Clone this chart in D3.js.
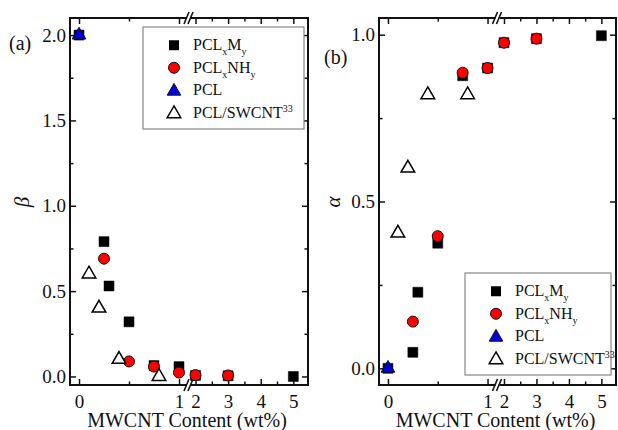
<!DOCTYPE html>
<html lang="en">
<head>
    <meta charset="UTF-8">
    <title>Beta and alpha vs MWCNT content</title>
    <script src="https://d3js.org/d3.v7.min.js"></script>
    <style>
        body { margin: 0; background: white; }
        svg, svg text { font-family: "Liberation Serif", "Times New Roman", Times, "DejaVu Serif", serif; }
        svg { display: block; }
        .tick text { font-size: 19px; fill: #111; }
        .tick line { stroke: #111; stroke-width: 1.5; }
    </style>
</head>
<body>
<script>
    // data
    var xMy = [0, 0.25, 0.3, 0.5, 0.75, 1, 2, 3, 5];
    var betaMy = [2.0, 0.79, 0.53, 0.32, 0.064, 0.058, 0.006, 0.004, 0.0];
    var alphaMy = [0, 0.048, 0.228, 0.375, 0.877, 0.90, 0.976, 0.988, 0.997];

    var xNH = [0.25, 0.5, 0.75, 1, 2, 3];
    var betaNH = [0.69, 0.088, 0.058, 0.023, 0.008, 0.006];
    var alphaNH = [0.14, 0.396, 0.886, 0.90, 0.976, 0.988];

    var xPCL = [0];
    var betaPCL = [2.0];
    var alphaPCL = [0];

    var xSW = [0.1, 0.2, 0.4, 0.8];
    var betaSW = [0.6, 0.4, 0.1, 0.0];
    var alphaSW = [0.405, 0.60, 0.82, 0.82];

    var legendNames = ["My", "NH", "PCL", "SW"];

    var width = 618, height = 430;
    var plotTop = 18, plotBottom = 385;

    var svg = d3.select("body").append("svg")
        .attr("width", width)
        .attr("height", height);

    function zip(xs, ys) {
        return xs.map(function(x, i) { return [x, ys[i]]; });
    }

    function drawPanel(opt) {
        var L = opt.left, W = opt.width, mid = L + W / 2;
        var g = svg.append("g");

        // broken x axis: two linear pieces
        var xLeft = d3.scaleLinear().domain([-0.09, 1.1]).range([L, mid]);
        var xRight = d3.scaleLinear().domain([1.8, 5.45]).range([mid, L + W]);
        var x = function(v) { return v <= 1.5 ? xLeft(v) : xRight(v); };
        var y = d3.scaleLinear().domain(opt.yDomain).range([plotBottom, plotTop]);

        // frame
        g.append("rect")
            .attr("x", L).attr("y", plotTop)
            .attr("width", W).attr("height", plotBottom - plotTop)
            .attr("fill", "none").attr("stroke", "#111").attr("stroke-width", 2);

        function addAxis(axis, tx, ty) {
            var a = g.append("g").attr("transform", "translate(" + tx + "," + ty + ")").call(axis);
            a.select(".domain").remove();
            a.attr("font-family", null);
            return a;
        }

        [[xLeft, [0, 1], [0.5]], [xRight, [2, 3, 4, 5], [2.5, 3.5, 4.5]]].forEach(function(p) {
            addAxis(d3.axisBottom(p[0]).tickValues(p[1]).tickSize(-6).tickPadding(10).tickFormat(d3.format("d")), 0, plotBottom);
            addAxis(d3.axisBottom(p[0]).tickValues(p[2]).tickSize(-3.5).tickFormat(""), 0, plotBottom);
            addAxis(d3.axisTop(p[0]).tickValues(p[1]).tickSize(-6).tickFormat(""), 0, plotTop);
            addAxis(d3.axisTop(p[0]).tickValues(p[2]).tickSize(-3.5).tickFormat(""), 0, plotTop);
        });

        addAxis(d3.axisLeft(y).tickValues(opt.yMajor).tickSize(-6).tickPadding(4).tickFormat(d3.format(".1f")), L, 0);
        addAxis(d3.axisLeft(y).tickValues(opt.yMinor).tickSize(-3.5).tickFormat(""), L, 0);
        addAxis(d3.axisRight(y).tickValues(opt.yMajor).tickSize(-6).tickFormat(""), L + W, 0);
        addAxis(d3.axisRight(y).tickValues(opt.yMinor).tickSize(-3.5).tickFormat(""), L + W, 0);

        // axis break marks
        [plotTop, plotBottom].forEach(function(yy) {
            g.append("rect").attr("x", mid - 2).attr("y", yy - 2).attr("width", 4).attr("height", 4).attr("fill", "white");
            [-2, 2].forEach(function(dx) {
                g.append("line")
                    .attr("x1", mid + dx - 3).attr("y1", yy + 6)
                    .attr("x2", mid + dx + 2).attr("y2", yy - 6)
                    .attr("stroke", "#111").attr("stroke-width", 1.6);
            });
        });

        // markers
        var sq = d3.symbol().type(d3.symbolSquare).size(100)();
        var tri = d3.symbol().type(d3.symbolTriangle).size(80)();

        function pts(data, shape, fill, stroke, sw) {
            g.append("g").selectAll("path")
                .data(data)
                .enter()
                .append("path")
                .attr("d", shape)
                .attr("transform", function(d) { return "translate(" + x(d[0]) + "," + y(d[1]) + ")"; })
                .attr("fill", fill).attr("stroke", stroke).attr("stroke-width", sw);
        }
        pts(zip(xMy, opt.my), sq, "#000", "#000", 0.5);
        g.append("g").selectAll("circle")
            .data(zip(xNH, opt.nh))
            .enter()
            .append("circle")
            .attr("cx", function(d) { return x(d[0]); })
            .attr("cy", function(d) { return y(d[1]); })
            .attr("r", 5.5)
            .attr("fill", "#f00").attr("stroke", "#111").attr("stroke-width", 1);
        pts(zip(xSW, opt.sw), tri, "white", "#000", 1.5);
        pts(zip(xPCL, opt.pcl), tri, "#0000e0", "#111", 1);

        // labels
        g.append("text")
            .attr("x", opt.tagX).attr("y", opt.tagY)
            .attr("font-size", 20).attr("fill", "#111")
            .text(opt.tag);
        g.append("text")
            .attr("transform", "translate(" + opt.symX + ",202) rotate(-90)")
            .attr("text-anchor", "middle").attr("dominant-baseline", "central")
            .attr("font-size", 21).attr("font-style", "italic").attr("fill", "#111")
            .text(opt.sym);
        g.append("text")
            .attr("x", L + W / 2 - 2).attr("y", 427)
            .attr("text-anchor", "middle")
            .attr("font-size", 20).attr("fill", "#111")
            .text("MWCNT Content (wt%)");

        // legend
        var lg = opt.legend;
        g.append("rect")
            .attr("x", lg.x).attr("y", lg.y)
            .attr("width", lg.w).attr("height", lg.h)
            .attr("fill", "white").attr("stroke", "#888").attr("stroke-width", 1.2);
        var rows = d3.scaleBand().domain(legendNames).range([lg.y + 7, lg.y + lg.h - 5]);
        legendNames.forEach(function(name) {
            var cy = rows(name) + rows.bandwidth() / 2;
            var sx = lg.x + 31;
            if (name === "My") {
                g.append("path").attr("d", sq).attr("transform", "translate(" + sx + "," + cy + ")").attr("fill", "#000");
            } else if (name === "NH") {
                g.append("circle").attr("cx", sx).attr("cy", cy).attr("r", 5.5)
                    .attr("fill", "#f00").attr("stroke", "#111").attr("stroke-width", 1);
            } else if (name === "PCL") {
                g.append("path").attr("d", tri).attr("transform", "translate(" + sx + "," + (cy + 1) + ")")
                    .attr("fill", "#0000e0").attr("stroke", "#111").attr("stroke-width", 1);
            } else {
                g.append("path").attr("d", tri).attr("transform", "translate(" + sx + "," + (cy + 1) + ")")
                    .attr("fill", "white").attr("stroke", "#000").attr("stroke-width", 1.5);
            }
            var t = g.append("text")
                .attr("x", lg.x + 50).attr("y", cy + 5)
                .attr("font-size", 16).attr("fill", "#111");
            if (name === "My" || name === "NH") {
                t.append("tspan").text("PCL");
                t.append("tspan").attr("font-size", 10).attr("dy", 5).text("x");
                t.append("tspan").attr("dy", -5).text(name === "My" ? "M" : "NH");
                t.append("tspan").attr("font-size", 10).attr("dy", 5).text("y");
            } else if (name === "PCL") {
                t.text("PCL");
            } else {
                t.append("tspan").text("PCL/SWCNT");
                t.append("tspan").attr("font-size", 10).attr("dy", -6).text("33");
            }
        });
    }

    drawPanel({
        left: 70, width: 238,
        yDomain: [-0.05, 2.1],
        yMajor: [0, 0.5, 1, 1.5, 2], yMinor: [0.25, 0.75, 1.25, 1.75],
        my: betaMy, nh: betaNH, pcl: betaPCL, sw: betaSW,
        tag: "(a)", tagX: 9, tagY: 50,
        sym: "\u03b2", symX: 22,
        legend: { x: 143, y: 27, w: 161, h: 102 }
    });

    drawPanel({
        left: 379, width: 237,
        yDomain: [-0.05, 1.05],
        yMajor: [0, 0.5, 1], yMinor: [0.25, 0.75],
        my: alphaMy, nh: alphaNH, pcl: alphaPCL, sw: alphaSW,
        tag: "(b)", tagX: 324, tagY: 64,
        sym: "\u03b1", symX: 333,
        legend: { x: 465, y: 273, w: 146, h: 102 }
    });
</script>
</body>
</html>
